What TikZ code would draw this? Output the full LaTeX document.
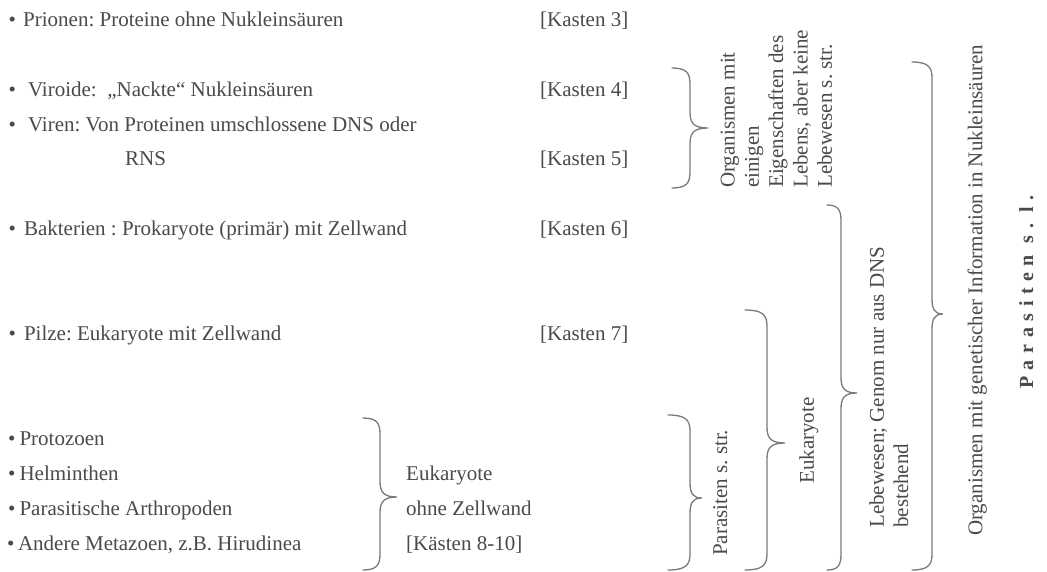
\documentclass[tikz,border=0pt]{standalone}
\usepackage{fontspec}
\setmainfont{Liberation Serif}
\newfontfamily\spbold[LetterSpace=33]{Liberation Serif Bold}
\definecolor{txt}{HTML}{4A4A4A}
\definecolor{brc}{HTML}{7A7A7A}
\frenchspacing
\tikzset{
  lbl/.style={anchor=base west, inner sep=0pt, text=txt, font=\fontsize{21}{24.3}\selectfont},
  vlbl/.style={rotate=90, anchor=north west, inner sep=0pt, text=txt, align=left, font=\fontsize{21}{24.3}\selectfont},
  bracestroke/.style={draw=brc, line width=1.3pt, line cap=round}
}
% x0 (hook end), xs (stem), xt (tip), y0 (top), ym (tip y), y1 (bottom)
\newcommand\Brc[6]{%
  \draw[bracestroke] (#1,#4) .. controls ({#1+0.8*(#2-#1)},#4) and (#2,{#4+5}) .. (#2,{#4+16})
    -- (#2,{#5-16}) .. controls (#2,{#5-5}) and ({#2+0.2*(#3-#2)},#5) .. (#3,#5)
    .. controls ({#2+0.2*(#3-#2)},#5) and (#2,{#5+5}) .. (#2,{#5+16})
    -- (#2,{#6-16}) .. controls (#2,{#6-5}) and ({#1+0.8*(#2-#1)},#6) .. (#1,#6);}
\begin{document}
\begin{tikzpicture}[x=1pt,y=-1pt]
\useasboundingbox (0,0) rectangle (1047,572);
\fill[white] (0,0) rectangle (1047,572);

% left list
\node[lbl] (prio) at (8.5,27) {•\hspace{7.2pt}Prionen: Proteine ohne Nukleinsäuren};
\node[lbl] (viro) at (8.5,97) {•\hspace{12pt}Viroide:\ \ „Nackte“ Nukleinsäuren};
\node[lbl] (vire) at (8.5,132) {•\hspace{12pt}Viren: Von Proteinen umschlossene DNS oder};
\node[lbl] (rns) at (125,166) {RNS};
\node[lbl] (bakt) at (8.5,236) {•\hspace{8pt}Bakterien : Prokaryote (primär) mit Zellwand};
\node[lbl] (pilz) at (8.5,340) {•\hspace{8pt}Pilze: Eukaryote mit Zellwand};
\node[lbl] (prot) at (8,445) {•\hspace{4pt}Protozoen};
\node[lbl] (helm) at (8,480) {•\hspace{4pt}Helminthen};
\node[lbl] (arth) at (8,515) {•\hspace{4pt}Parasitische Arthropoden};
\node[lbl] (meta) at (7,550) {•\hspace{3.5pt}Andere Metazoen, z.B. Hirudinea};

% Kasten labels
\node[lbl] (k3) at (540,27) {[Kasten 3]};
\node[lbl] (k4) at (540,97) {[Kasten 4]};
\node[lbl] (k5) at (540,166) {[Kasten 5]};
\node[lbl] (k6) at (540,236) {[Kasten 6]};
\node[lbl] (k7) at (540,340) {[Kasten 7]};

\node[lbl] (euk1) at (406,480) {Eukaryote};
\node[lbl] (euk2) at (406,515) {ohne Zellwand};
\node[lbl] (euk3) at (406,550) {[Kästen 8-10]};

% braces
\Brc{672}{690}{708}{68}{128}{188}
\Brc{363}{380}{397}{418}{497}{570}
\Brc{668}{690}{702}{415}{498}{570}
\Brc{745}{767}{785}{310}{443}{570}
\Brc{827}{841}{857}{205}{393}{570}
\Brc{912}{932}{943}{62}{314}{570}

% rotated labels
\node[vlbl] (org1) at (720.5,188) {Organismen mit\\einigen\\Eigenschaften des\\Lebens, aber keine\\Lebewesen s. str.};
\node[vlbl] (pss) at (713,556) {Parasiten s. str.};
\node[vlbl] (euk) at (799,484) {Eukaryote};
\node[vlbl] (leb) at (869,528) {Lebewesen; Genom nur aus DNS\\bestehend};
\node[vlbl] (org2) at (967.5,536) {Organismen mit genetischer Information in Nukleinsäuren};
\node[vlbl, font={\spbold\fontsize{20}{22}\selectfont}] (psl) at (1019,389) {Parasiten s. l.};
\end{tikzpicture}
\end{document}
